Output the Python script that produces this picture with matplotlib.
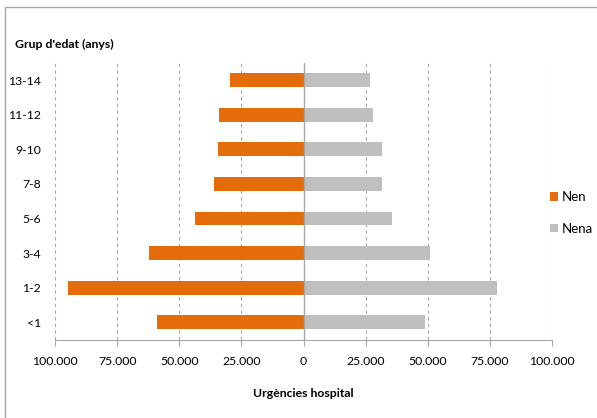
import matplotlib.pyplot as plt
from matplotlib.patches import Rectangle
from matplotlib.ticker import FuncFormatter

plt.rcParams['font.family'] = ['Lato', 'DejaVu Sans']

# Data
grups = ['<1', '1-2', '3-4', '5-6', '7-8', '9-10', '11-12', '13-14']
nen = [58900, 94800, 62000, 43700, 36200, 34400, 34100, 29700]
nena = [48900, 77700, 51100, 35600, 31400, 31600, 27800, 26600]
ticks = [-100000, -75000, -50000, -25000, 0, 25000, 50000, 75000, 100000]

c_nen = '#E46C0A'
c_nena = '#BFBFBF'

fig = plt.figure(figsize=(5.97, 4.18), dpi=100)
ax = fig.add_axes([55 / 597, 1 - 339.5 / 418, 497 / 597, 276.5 / 418])

y = range(len(grups))
ax.barh(y, [-v for v in nen], height=0.4, color=c_nen, label='Nen', zorder=3)
ax.barh(y, nena, height=0.4, color=c_nena, label='Nena', zorder=3)

ax.set_xlim(-100000, 100000)
ax.set_ylim(-0.5, len(grups) - 0.5)
ax.set_xticks(ticks)
ax.xaxis.set_major_formatter(FuncFormatter(lambda v, p: f'{abs(int(v)):,}'.replace(',', '.')))
ax.set_yticks(list(y))
ax.set_yticklabels(grups)

# gridlines
for t in ticks:
    if t == 0:
        ax.axvline(0, color='#A6A6A6', lw=1, zorder=4)
    else:
        ax.axvline(t, color='#A6A6A6', lw=0.8, ls=(0, (3, 3)), zorder=1)

for s in ['top', 'right', 'left']:
    ax.spines[s].set_visible(False)
ax.spines['bottom'].set_color('#A6A6A6')
ax.tick_params(axis='x', colors='#A6A6A6', length=4, labelcolor='black', labelsize=8.8, pad=8)
ax.tick_params(axis='y', length=0, labelsize=8.8, pad=10)

ax.set_xlabel('Urgències hospital', fontsize=8.8, fontweight='bold', labelpad=15)
fig.text(15 / 597, 1 - 44 / 418, "Grup d'edat (anys)", fontsize=8.8, fontweight='bold',
         va='center', ha='left')

ax.legend(loc='center left', bbox_to_anchor=(550 / 597, 1 - 213 / 418),
          bbox_transform=fig.transFigure, frameon=False, fontsize=9.5,
          handlelength=0.6, handleheight=0.6, handletextpad=0.3, labelspacing=1.5,
          borderaxespad=0, borderpad=0)

# chart border (top and left visible)
fig.patches.append(Rectangle((5 / 597, -0.1), 1.2, 1 - 7 / 418 + 0.1, transform=fig.transFigure,
                             fill=False, edgecolor='#A6A6A6', lw=1))

fig.savefig('out.png', dpi=100)
